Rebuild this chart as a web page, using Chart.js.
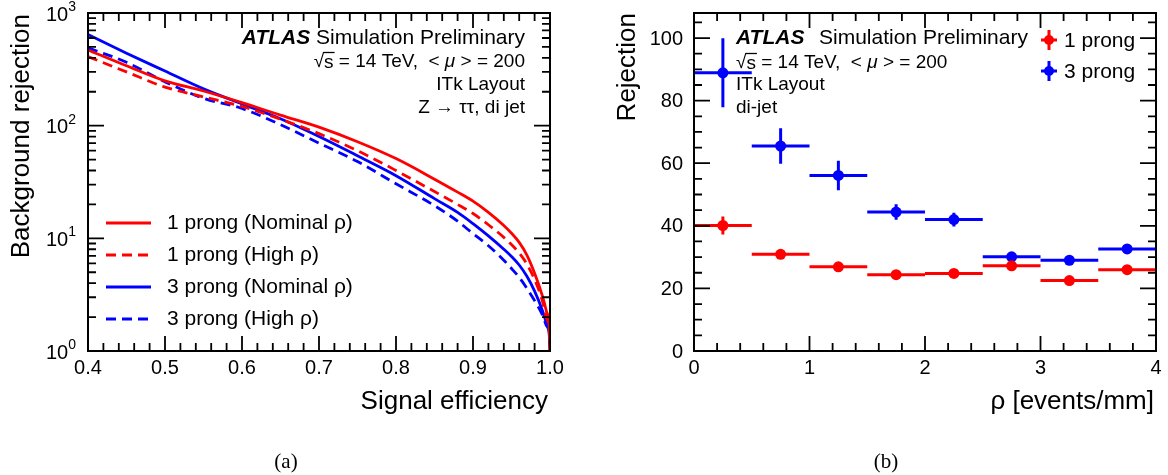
<!DOCTYPE html>
<html><head><meta charset="utf-8">
<script src="https://cdn.jsdelivr.net/npm/chart.js@4.4.0/dist/chart.umd.min.js"></script>
<style>
html,body{margin:0;padding:0;background:#fff;}
#wrap{position:relative;width:1168px;height:475px;overflow:hidden;background:#fff;}
canvas{position:absolute;top:0;}
</style></head><body>
<div id="wrap">
<canvas id="c1" width="584" height="475" style="left:0"></canvas>
<canvas id="c2" width="584" height="475" style="left:584px"></canvas>
</div>
<script>
// ---------- data: panel (a) ----------
const efficiency     = [0.40,0.45,0.50,0.55,0.60,0.65,0.70,0.75,0.80,0.85,0.88,0.90,0.92,0.94,0.95,0.96,0.97,0.98,0.99,0.995,0.999,1.0];
const rej1pNominal   = [470, 340, 250, 203, 160, 124, 97,  72,  51,  33.5,25.7,21.4,17.0,13.0,11.1,9.2, 7.1, 4.9, 3.1, 2.3,  1.6,  1.0];
const rej1pHigh      = [410, 300, 220, 180, 148, 114, 85,  60,  40,  26,  20.0,16.6,13.2,10.2,8.8, 7.4, 5.9, 4.3, 2.8, 2.0,  1.5,  1.0];
const rej3pNominal   = [645, 440, 305, 212, 156, 115, 80,  54,  36,  22.5,17.0,13.5,10.5,8.0, 6.9, 5.8, 4.6, 3.4, 2.3, 1.8,  1.4,  1.0];
const rej3pHigh      = [490, 365, 245, 175, 142, 102, 70,  48,  30.5,19.5,14.2,11.0,8.6, 6.4, 5.4, 4.5, 3.6, 2.8, 2.1, 1.7,  1.4,  1.0];
const effTicks       = [0.4,0.5,0.6,0.7,0.8,0.9,1.0];
const effTickLabels  = ['0.4','0.5','0.6','0.7','0.8','0.9','1.0'];
const logTicks       = [1,10,100,1000];
const logTickExps    = ['0','1','2','3'];
const seriesLabelsA  = ['1 prong (Nominal ρ)','1 prong (High ρ)','3 prong (Nominal ρ)','3 prong (High ρ)'];

// ---------- data: panel (b) ----------
const rhoCenters     = [0.25,0.75,1.25,1.75,2.25,2.75,3.25,3.75];
const rhoHalfWidth   = [0.25,0.25,0.25,0.25,0.25,0.25,0.25,0.25];
const rej1p          = [40.1,30.9,26.9,24.4,24.8,27.2,22.5,26.0];
const rej1pErr       = [2.9, 1.3, 0.9, 0.8, 0.8, 0.9, 0.8, 0.9];
const rej3p          = [88.9,65.5,56.1,44.4,42.0,30.1,29.0,32.6];
const rej3pErr       = [11.0,5.7, 4.7, 2.5, 2.2, 1.2, 1.2, 1.3];
const rhoTicks       = [0,1,2,3,4];
const rejTicks       = [0,20,40,60,80,100];
const seriesLabelsB  = ['1 prong','3 prong'];

const RED='#ff0000', BLUE='#0000ff';
const FONT='"Liberation Sans", Arial, Helvetica, sans-serif';
const SERIF='"Liberation Serif", "DejaVu Serif", serif';

function txt(ctx,s,x,y,size,align,opts){
  opts=opts||{};
  ctx.font=(opts.style||'')+' '+(opts.weight||'')+' '+size+'px '+(opts.family||FONT);
  ctx.textAlign=align||'left'; ctx.textBaseline='middle'; ctx.fillStyle=opts.color||'#000';
  ctx.fillText(s,x,y);
  return ctx.measureText(s).width;
}
function meas(ctx,s,size,style,weight){
  ctx.font=(style||'')+' '+(weight||'')+' '+size+'px '+FONT;
  return ctx.measureText(s).width;
}
function sqrtsLine(ctx,x0,y,size){
  let x=x0;
  x+=txt(ctx,'√',x,y,size);
  const ws=meas(ctx,'s',size);
  txt(ctx,'s',x,y+1,size);
  ctx.save();ctx.strokeStyle='#000';ctx.lineWidth=1.3;
  ctx.beginPath();ctx.moveTo(x-1,y-size*0.5);ctx.lineTo(x+ws+1,y-size*0.5);ctx.stroke();ctx.restore();
  x+=ws;
  x+=txt(ctx,' = 14 TeV,  < ',x,y,size);
  x+=txt(ctx,'μ',x,y,size,'left',{style:'italic'});
  x+=txt(ctx,' > = 200',x,y,size);
  return x-x0;
}
function sqrtsWidth(ctx,size){
  return meas(ctx,'√',size)+meas(ctx,'s',size)+meas(ctx,' = 14 TeV,  < ',size)+meas(ctx,'μ',size,'italic')+meas(ctx,' > = 200',size);
}

function drawFrameTicks(chart,spec){
  const {ctx,chartArea:a,scales:{x,y}}=chart;
  ctx.save();
  ctx.strokeStyle='#000';ctx.lineWidth=1.8;ctx.setLineDash([]);
  ctx.beginPath();
  const tx=(v,len)=>{const p=x.getPixelForValue(v);ctx.moveTo(p,a.bottom);ctx.lineTo(p,a.bottom-len);ctx.moveTo(p,a.top);ctx.lineTo(p,a.top+len);};
  const ty=(v,len)=>{const p=y.getPixelForValue(v);ctx.moveTo(a.left,p);ctx.lineTo(a.left+len,p);ctx.moveTo(a.right,p);ctx.lineTo(a.right-len,p);};
  spec.xMinor.forEach(v=>tx(v,8)); spec.xMajor.forEach(v=>tx(v,15));
  spec.yMinor.forEach(v=>ty(v,8)); spec.yMajor.forEach(v=>ty(v,16));
  ctx.stroke();
  ctx.lineWidth=2;
  ctx.strokeRect(a.left,a.top,a.right-a.left,a.bottom-a.top);
  ctx.restore();
}

// ---------- chart (a) ----------
const minorEff=[];for(let v=0.40;v<=1.0001;v+=0.02)minorEff.push(+v.toFixed(2));
const minorLog=[];for(let d=1;d<1000;d*=10)for(let k=2;k<=9;k++)minorLog.push(k*d);

const pluginA={id:'rootA',
  afterDraw(chart){
    const {ctx,scales:{x,y}}=chart;
    drawFrameTicks(chart,{xMajor:effTicks,xMinor:minorEff,yMajor:logTicks,yMinor:minorLog});
    effTicks.forEach((v,i)=>txt(ctx,effTickLabels[i],x.getPixelForValue(v),368,20,'center'));
    logTicks.forEach((v,i)=>{
      const p=y.getPixelForValue(v);
      const we=meas(ctx,logTickExps[i],14);
      const right=76;
      txt(ctx,logTickExps[i],right-we,p-6,14);
      txt(ctx,'10',right-we,p+2,20,'right');
    });
    txt(ctx,'Signal efficiency',548,402,26,'right');
    ctx.save();ctx.translate(22,14);ctx.rotate(-Math.PI/2);
    txt(ctx,'Background rejection',0,0,26,'right');ctx.restore();
    const w2=meas(ctx,' Simulation Preliminary',21), w1=meas(ctx,'ATLAS',21,'italic','bold');
    txt(ctx,'ATLAS',525-w1-w2,38,21,'left',{style:'italic',weight:'bold'});
    txt(ctx,' Simulation Preliminary',525-w2,38,21);
    sqrtsLine(ctx,525-sqrtsWidth(ctx,19),62,19);
    txt(ctx,'ITk Layout',525,85,19,'right');
    txt(ctx,'Z → ττ, di jet',525,108,19,'right');
    const ys=[223,255,287,319];
    chart.data.datasets.forEach((ds,i)=>{
      ctx.save();ctx.strokeStyle=ds.borderColor;ctx.lineWidth=2.8;ctx.setLineDash(ds.borderDash||[]);
      ctx.beginPath();ctx.moveTo(106,ys[i]);ctx.lineTo(151,ys[i]);ctx.stroke();ctx.restore();
      txt(ctx,ds.label,167,ys[i],21);
    });
    txt(ctx,'(a)',286,462,21,'center',{family:SERIF});
  }
};
const mk=(arr)=>efficiency.map((e,i)=>({x:e,y:arr[i]}));
new Chart(document.getElementById('c1'),{
  type:'line',
  data:{datasets:[
    {label:seriesLabelsA[0],data:mk(rej1pNominal),borderColor:RED,borderWidth:2.8,pointRadius:0,fill:false},
    {label:seriesLabelsA[1],data:mk(rej1pHigh),borderColor:RED,borderWidth:2.8,borderDash:[10,6],pointRadius:0,fill:false},
    {label:seriesLabelsA[2],data:mk(rej3pNominal),borderColor:BLUE,borderWidth:2.8,pointRadius:0,fill:false},
    {label:seriesLabelsA[3],data:mk(rej3pHigh),borderColor:BLUE,borderWidth:2.8,borderDash:[10,6],pointRadius:0,fill:false}
  ]},
  options:{
    responsive:false,animation:false,devicePixelRatio:1,events:[],
    layout:{padding:{top:13,right:34,left:0,bottom:0}},
    elements:{line:{cubicInterpolationMode:'monotone'}},
    plugins:{legend:{display:false},tooltip:{enabled:false}},
    scales:{
      x:{type:'linear',min:0.4,max:1.0,grid:{display:false},border:{display:false},ticks:{display:false},
         afterFit(s){s.height=124;}},
      y:{type:'logarithmic',min:1,max:1000,grid:{display:false},border:{display:false},ticks:{display:false},
         afterFit(s){s.width=88;}}
    }
  },
  plugins:[pluginA]
});

// ---------- chart (b) ----------
const minorRho=[];for(let v=0;v<=4.0001;v+=0.2)minorRho.push(+v.toFixed(1));
const minorRej=[];for(let v=0;v<=105;v+=5)minorRej.push(v);

function errCross(ctx,x,y,hx,vy,color,r){
  ctx.save();ctx.strokeStyle=color;ctx.lineWidth=3;ctx.setLineDash([]);
  ctx.beginPath();ctx.moveTo(x-hx,y);ctx.lineTo(x+hx,y);ctx.moveTo(x,y-vy);ctx.lineTo(x,y+vy);ctx.stroke();
  if(r){ctx.fillStyle=color;ctx.beginPath();ctx.arc(x,y,r,0,Math.PI*2);ctx.fill();}
  ctx.restore();
}
const pluginB={id:'rootB',
  beforeDatasetsDraw(chart){
    const {ctx,scales:{x,y}}=chart;
    const sets=[[rej1p,rej1pErr,RED],[rej3p,rej3pErr,BLUE]];
    sets.forEach(([vals,errs,col])=>{
      ctx.save();ctx.strokeStyle=col;ctx.lineWidth=3;ctx.beginPath();
      rhoCenters.forEach((c,i)=>{
        const py=y.getPixelForValue(vals[i]);
        ctx.moveTo(x.getPixelForValue(c-rhoHalfWidth[i]),py);ctx.lineTo(x.getPixelForValue(c+rhoHalfWidth[i]),py);
        const px=x.getPixelForValue(c);
        ctx.moveTo(px,y.getPixelForValue(vals[i]+errs[i]));ctx.lineTo(px,y.getPixelForValue(vals[i]-errs[i]));
      });
      ctx.stroke();ctx.restore();
    });
  },
  afterDraw(chart){
    const {ctx,scales:{x,y}}=chart;
    drawFrameTicks(chart,{xMajor:rhoTicks,xMinor:minorRho,yMajor:rejTicks,yMinor:minorRej});
    rhoTicks.forEach(v=>txt(ctx,String(v),x.getPixelForValue(v),368,20,'center'));
    rejTicks.forEach(v=>txt(ctx,String(v),99,y.getPixelForValue(v)+1,20,'right'));
    txt(ctx,'ρ [events/mm]',570,402,26,'right');
    ctx.save();ctx.translate(44,13);ctx.rotate(-Math.PI/2);
    txt(ctx,'Rejection',0,0,26,'right');ctx.restore();
    txt(ctx,'ATLAS',152,38,21,'left',{style:'italic',weight:'bold'});
    txt(ctx,'Simulation Preliminary',235,38,21);
    sqrtsLine(ctx,152,63,19);
    txt(ctx,'ITk Layout',152,85,19);
    txt(ctx,'di-jet',152,108,19);
    const ly=[40,71];
    chart.data.datasets.forEach((ds,i)=>{
      errCross(ctx,465,ly[i],8,10,ds.backgroundColor,5);
      txt(ctx,ds.label,480,ly[i]+1,21);
    });
    txt(ctx,'(b)',302,462,21,'center',{family:SERIF});
  }
};
const pts=(arr)=>rhoCenters.map((c,i)=>({x:c,y:arr[i]}));
new Chart(document.getElementById('c2'),{
  type:'scatter',
  data:{datasets:[
    {label:seriesLabelsB[0],data:pts(rej1p),backgroundColor:RED,borderWidth:0,pointRadius:5.5},
    {label:seriesLabelsB[1],data:pts(rej3p),backgroundColor:BLUE,borderWidth:0,pointRadius:5.5}
  ]},
  options:{
    responsive:false,animation:false,devicePixelRatio:1,events:[],
    layout:{padding:{top:13,right:12,left:0,bottom:0}},
    plugins:{legend:{display:false},tooltip:{enabled:false}},
    scales:{
      x:{type:'linear',min:0,max:4,grid:{display:false},border:{display:false},ticks:{display:false},
         afterFit(s){s.height=124;}},
      y:{type:'linear',min:0,max:108,grid:{display:false},border:{display:false},ticks:{display:false,includeBounds:false},
         afterFit(s){s.width=110;}}
    }
  },
  plugins:[pluginB]
});
</script>
</body></html>
